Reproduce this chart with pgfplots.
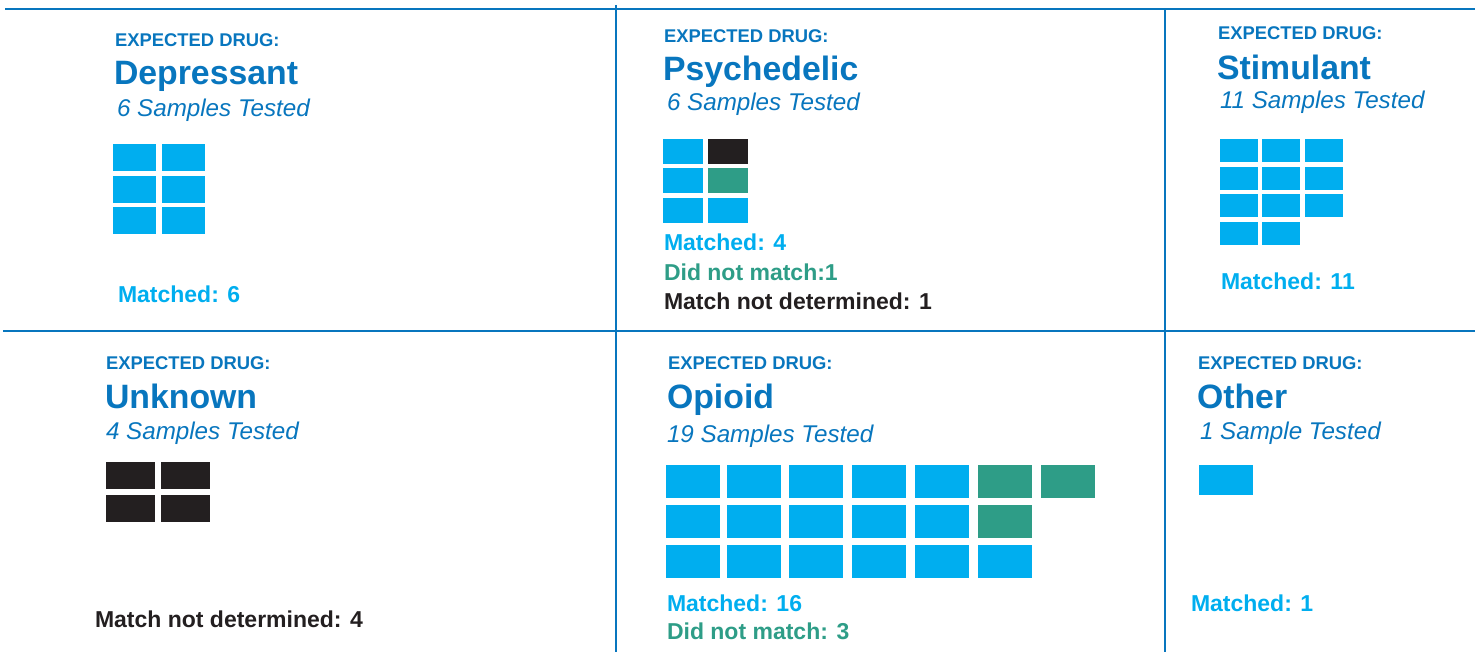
\documentclass[border=0pt]{standalone}
\usepackage{pgfplots}
\pgfplotsset{compat=1.18}
\usepackage{fontspec}
\setmainfont{Liberation Sans}
\definecolor{hblue}{RGB}{8,118,190}
\definecolor{tblue}{RGB}{0,174,239}
\definecolor{tteal}{RGB}{46,157,135}
\definecolor{tblack}{RGB}{35,31,32}
% tile marks (1 unit = 1pt = 1px)
\pgfdeclareplotmark{tA}{\pgfpathrectangle{\pgfpoint{-21.5pt}{-13.3pt}}{\pgfpoint{43pt}{26.6pt}}\pgfusepathqfill}
\pgfdeclareplotmark{tB}{\pgfpathrectangle{\pgfpoint{-20.1pt}{-12.5pt}}{\pgfpoint{40.2pt}{25pt}}\pgfusepathqfill}
\pgfdeclareplotmark{tC}{\pgfpathrectangle{\pgfpoint{-19pt}{-11.5pt}}{\pgfpoint{38pt}{23pt}}\pgfusepathqfill}
\pgfdeclareplotmark{tD}{\pgfpathrectangle{\pgfpoint{-24.5pt}{-13.5pt}}{\pgfpoint{49pt}{27pt}}\pgfusepathqfill}
\pgfdeclareplotmark{tE}{\pgfpathrectangle{\pgfpoint{-27pt}{-16.5pt}}{\pgfpoint{54pt}{33pt}}\pgfusepathqfill}
\pgfdeclareplotmark{tF}{\pgfpathrectangle{\pgfpoint{-27pt}{-15pt}}{\pgfpoint{54pt}{30pt}}\pgfusepathqfill}
\newcommand{\fexp}{\fontsize{18.4}{21}\selectfont\bfseries}
\newcommand{\fname}{\fontsize{33.8}{38}\selectfont\bfseries}
\newcommand{\fsamp}{\fontsize{24.2}{28}\selectfont\itshape}
\newcommand{\fcnt}{\fontsize{23}{27}\selectfont\bfseries}
\tikzset{lbl/.style={anchor=base west, inner sep=0pt, outer sep=0pt}}
\begin{document}
\begin{tikzpicture}
\begin{axis}[width=1484pt, height=652pt, scale only axis,
  xmin=0, xmax=1484, ymin=0, ymax=652, y dir=reverse,
  hide axis, clip=false]
% grid lines
\addplot[hblue, line width=2.2pt, mark=none] coordinates {(5,9) (1475,9)};
\addplot[hblue, line width=2.2pt, mark=none] coordinates {(3,331) (1475,331)};
\addplot[hblue, line width=2.2pt, mark=none] coordinates {(616,5) (616,652)};
\addplot[hblue, line width=2.2pt, mark=none] coordinates {(1165,9) (1165,652)};
% Panel 1: Depressant (6 matched)
\addplot[only marks, mark=tA, tblue] coordinates {(134.2,157.3) (183.5,157.3) (134.2,189.3) (183.5,189.3) (134.2,220.3) (183.5,220.3)};
% Panel 2: Psychedelic
\addplot[only marks, mark=tB, tblue] coordinates {(682.8,151.5) (682.8,180.5) (682.8,210.5) (728,210.5)};
\addplot[only marks, mark=tB, tblack] coordinates {(728,151.5)};
\addplot[only marks, mark=tB, tteal] coordinates {(728,180.5)};
% Panel 3: Stimulant (11 matched)
\addplot[only marks, mark=tC, tblue] coordinates {(1239,150.5) (1281,150.5) (1324,150.5) (1239,178.5) (1281,178.5) (1324,178.5) (1239,205.5) (1281,205.5) (1324,205.5) (1239,233.5) (1281,233.5)};
% Panel 4: Unknown (4 not determined)
\addplot[only marks, mark=tD, tblack] coordinates {(130.5,475.5) (185.5,475.5) (130.5,508.5) (185.5,508.5)};
% Panel 5: Opioid
\addplot[only marks, mark=tE, tblue] coordinates {(693,481.5) (754,481.5) (816,481.5) (879,481.5) (942,481.5)
 (693,521.5) (754,521.5) (816,521.5) (879,521.5) (942,521.5)
 (693,561.5) (754,561.5) (816,561.5) (879,561.5) (942,561.5) (1005,561.5)};
\addplot[only marks, mark=tE, tteal] coordinates {(1005,481.5) (1068,481.5) (1005,521.5)};
% Panel 6: Other
\addplot[only marks, mark=tF, tblue] coordinates {(1226,480)};
% texts panel 1
\node[lbl, hblue] at (axis cs:115,47) {\fexp EXPECTED DRUG:};
\node[lbl, hblue] at (axis cs:114,85) {\fname Depressant};
\node[lbl, hblue] at (axis cs:117,117) {\fsamp 6 Samples Tested};
\node[lbl, tblue] at (axis cs:118,303) {\fcnt Matched: 6};
% panel 2
\node[lbl, hblue] at (axis cs:664,43) {\fexp EXPECTED DRUG:};
\node[lbl, hblue] at (axis cs:663,81) {\fname Psychedelic};
\node[lbl, hblue] at (axis cs:667,111) {\fsamp 6 Samples Tested};
\node[lbl, tblue] at (axis cs:664,251) {\fcnt Matched: 4};
\node[lbl, tteal] at (axis cs:664,281) {\fcnt Did not match:1};
\node[lbl, tblack] at (axis cs:664,310) {\fcnt Match not determined: 1};
% panel 3
\node[lbl, hblue] at (axis cs:1218,40) {\fexp EXPECTED DRUG:};
\node[lbl, hblue] at (axis cs:1217,80) {\fname Stimulant};
\node[lbl, hblue] at (axis cs:1220,109) {\fsamp 11 Samples Tested};
\node[lbl, tblue] at (axis cs:1221,290) {\fcnt Matched: 11};
% panel 4
\node[lbl, hblue] at (axis cs:106,370) {\fexp EXPECTED DRUG:};
\node[lbl, hblue] at (axis cs:105,409) {\fname Unknown};
\node[lbl, hblue] at (axis cs:106,439) {\fsamp 4 Samples Tested};
\node[lbl, tblack] at (axis cs:95,627) {\fcnt Match not determined: 4};
% panel 5
\node[lbl, hblue] at (axis cs:668,370) {\fexp EXPECTED DRUG:};
\node[lbl, hblue] at (axis cs:667,409) {\fname Opioid};
\node[lbl, hblue] at (axis cs:667,442) {\fsamp 19 Samples Tested};
\node[lbl, tblue] at (axis cs:667,611) {\fcnt Matched: 16};
\node[lbl, tteal] at (axis cs:667,639) {\fcnt Did not match: 3};
% panel 6
\node[lbl, hblue] at (axis cs:1198,370) {\fexp EXPECTED DRUG:};
\node[lbl, hblue] at (axis cs:1197,409) {\fname Other};
\node[lbl, hblue] at (axis cs:1200,439) {\fsamp 1 Sample Tested};
\node[lbl, tblue] at (axis cs:1191,611) {\fcnt Matched: 1};
\end{axis}
\pgfresetboundingbox
\path (current axis.south west) rectangle (current axis.north east);
\end{tikzpicture}
\end{document}
